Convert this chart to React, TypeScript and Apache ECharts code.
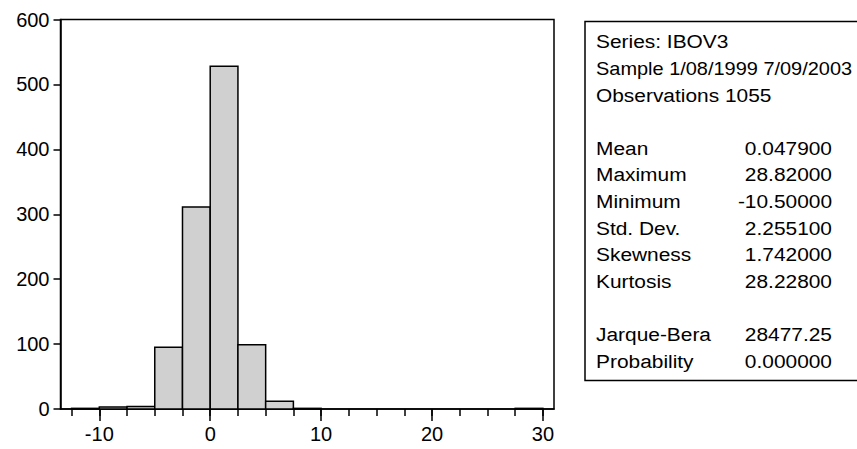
import React, { useEffect, useRef } from "react";
import * as echarts from "echarts";

// Histogram bins (left edges) and frequencies
const binStarts = [-12.5, -10, -7.5, -5, -2.5, 0, 2.5, 5, 7.5, 10, 12.5, 15, 17.5, 20, 22.5, 25, 27.5];
const binWidth = 2.5;
const counts = [1, 3, 4, 95, 311, 528, 99, 12, 1, 0, 0, 0, 0, 0, 0, 0, 1];

// Axis ticks
const yTicks = [0, 100, 200, 300, 400, 500, 600];
const xMinorTicks = [-12.5, -10, -7.5, -5, -2.5, 0, 2.5, 5, 7.5, 10, 12.5, 15, 17.5, 20, 22.5, 25, 27.5, 30];
const xMajorTicks = [-10, 0, 10, 20, 30];

// Descriptive statistics panel
const headerLines = ["Series: IBOV3", "Sample 1/08/1999 7/09/2003", "Observations 1055"];
const statNames = ["Mean", "Maximum", "Minimum", "Std. Dev.", "Skewness", "Kurtosis"];
const statValues = ["0.047900", "28.82000", "-10.50000", "2.255100", "1.742000", "28.22800"];
const testNames = ["Jarque-Bera", "Probability"];
const testValues = ["28477.25", "0.000000"];

const FONT = "'Liberation Sans', Arial, Helvetica, sans-serif";
const AXIS_FS = 20;
const PANEL_FS = 19;
const LINE_W = 1.5;

export default function App() {
  const ref = useRef<HTMLDivElement>(null);

  useEffect(() => {
    if (!ref.current) return;
    const chart = echarts.init(ref.current, undefined, { renderer: "svg" });

    const bins = binStarts.map((s, i) => [s, s + binWidth, counts[i]]);

    // statistics panel text lines
    const lineH = 26.6;
    const y0 = 41.7;
    const textX = 596;
    const valueX = 832;
    const texts: any[] = [];
    const mkText = (x: number, y: number, text: string, align: string, sx: number) => ({
      type: "text",
      x,
      y,
      scaleX: sx,
      style: {
        text,
        fill: "#000",
        font: `${PANEL_FS}px ${FONT}`,
        textVerticalAlign: "middle",
        textAlign: align,
      },
    });
    const addLine = (row: number, left: string, right?: string, sx = 1.1) => {
      texts.push(mkText(textX, y0 + row * lineH, left, "left", sx));
      if (right !== undefined) texts.push(mkText(valueX, y0 + row * lineH, right, "right", sx));
    };
    // the long sample line is set a little narrower so it stays inside the page
    headerLines.forEach((t, i) => addLine(i, t, undefined, i === 1 ? 1.05 : 1.1));
    statNames.forEach((t, i) => addLine(4 + i, t, statValues[i]));
    testNames.forEach((t, i) => addLine(11 + i, t, testValues[i]));

    chart.setOption({
      animation: false,
      textStyle: { fontFamily: FONT },
      grid: {
        left: 60.5,
        top: 19.5,
        right: 303,
        bottom: 40,
        show: true,
        borderColor: "#000",
        borderWidth: LINE_W,
        backgroundColor: "transparent",
      },
      xAxis: [
        {
          type: "value",
          min: -13.5,
          max: 31,
          position: "bottom",
          axisLine: { show: true, onZero: false, lineStyle: { color: "#000", width: LINE_W } },
          axisTick: { show: true, length: 7, customValues: xMinorTicks, lineStyle: { color: "#000", width: LINE_W } },
          axisLabel: { show: false },
          splitLine: { show: false },
        },
        {
          type: "value",
          min: -13.5,
          max: 31,
          position: "bottom",
          axisLine: { show: false, onZero: false },
          axisTick: { show: true, length: 12, customValues: xMajorTicks, lineStyle: { color: "#000", width: LINE_W } },
          axisLabel: {
            show: true,
            customValues: xMajorTicks,
            margin: 15,
            color: "#000",
            fontSize: AXIS_FS,
            fontFamily: FONT,
          },
          splitLine: { show: false },
        },
      ],
      yAxis: {
        type: "value",
        min: yTicks[0],
        max: yTicks[yTicks.length - 1],
        interval: 100,
        axisLine: { show: true, onZero: false, lineStyle: { color: "#000", width: LINE_W } },
        axisTick: { show: true, length: 7, lineStyle: { color: "#000", width: LINE_W } },
        axisLabel: { color: "#000", fontSize: AXIS_FS, fontFamily: FONT, margin: 11 },
        splitLine: { show: false },
      },
      series: [
        {
          type: "custom",
          xAxisIndex: 0,
          yAxisIndex: 0,
          data: bins,
          encode: { x: [0, 1], y: 2 },
          renderItem: (params: any, api: any) => {
            const c = api.value(2);
            if (!c) return null;
            const p0 = api.coord([api.value(0), c]);
            const p1 = api.coord([api.value(1), 0]);
            return {
              type: "rect",
              shape: { x: p0[0], y: p0[1], width: p1[0] - p0[0], height: p1[1] - p0[1] },
              style: { fill: "#d0d0d0", stroke: "#000", lineWidth: LINE_W },
            };
          },
        },
      ],
      graphic: [
        {
          type: "rect",
          shape: { x: 585, y: 21.5, width: 320, height: 359 },
          style: { fill: "none", stroke: "#000", lineWidth: LINE_W },
        },
        ...texts,
      ],
    });

    return () => chart.dispose();
  }, []);

  return (
    <div
      ref={ref}
      style={{ position: "fixed", left: 0, top: 0, width: 857, height: 449, background: "#fff" }}
    />
  );
}
